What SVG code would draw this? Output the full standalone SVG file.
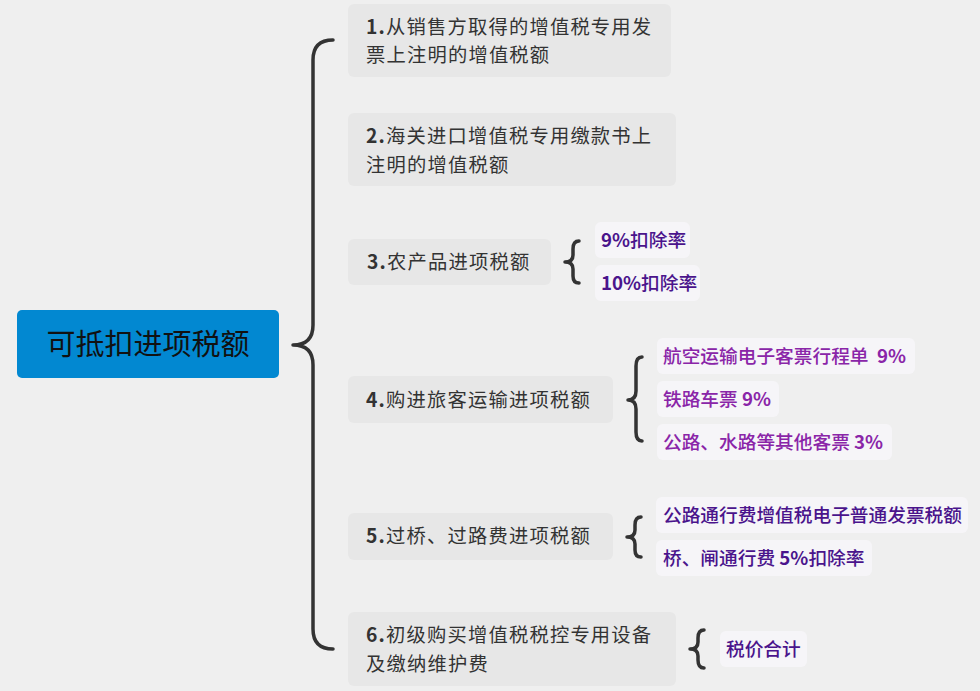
<svg xmlns="http://www.w3.org/2000/svg" width="980" height="691" viewBox="0 0 980 691">
<style>
.bg{fill:#efefef}
.node{fill:#e7e7e7}
.leaf{fill:#f6f5f8}
.t{font-family:"Noto Sans CJK SC","Noto Sans",sans-serif;font-size:19.3px;letter-spacing:1.2px;fill:#333333}
.lt{font-family:"Noto Sans CJK SC","Noto Sans",sans-serif;font-size:18.7px;font-weight:500}
.p1{fill:#4a148c}
.p2{fill:#8a25a8}
.b{font-weight:bold}
.br{fill:none;stroke:#333333;stroke-width:3.5;stroke-linecap:round;stroke-linejoin:round}
</style>
<rect class="bg" x="0" y="0" width="980" height="691"/>
<g id="connectors">
<path class="br" d="M333,40 Q313,40 313,60 L313,325 Q313,345 293,345 Q313,345 313,365 L313,629 Q313,649 333,649"/>
<path class="br" d="M579,241 Q573,241 573,249 L573,255 Q573,262 565,262 Q573,262 573,269 L573,276 Q573,283 579,283"/>
<path class="br" d="M642,357 Q636,357 636,366 L636,391 Q636,400 628,400 Q636,400 636,409 L636,432 Q636,441 642,441"/>
<path class="br" d="M641,517 Q635,517 635,525 L635,530 Q635,537 627,537 Q635,537 635,544 L635,550 Q635,557 641,557"/>
<path class="br" d="M704,630 Q698,630 698,638 L698,642 Q698,649 690,649 Q698,649 698,656 L698,660 Q698,668 704,668"/>
</g>
<g id="root">
<rect x="17" y="310" width="262" height="68" rx="5" fill="#0288d1"/>
<text x="148" y="355" text-anchor="middle" font-family="Noto Sans CJK SC, Noto Sans, sans-serif" font-size="29" fill="#111111">可抵扣进项税额</text>
</g>
<g id="n1">
<rect class="node" x="348" y="4" width="323" height="73" rx="6"/>
<text class="t" x="366" y="33.5"><tspan class="b">1.</tspan>从销售方取得的增值税专用发<tspan x="366" dy="28.5">票上注明的增值税额</tspan></text>
</g>
<g id="n2">
<rect class="node" x="348" y="113" width="328" height="73" rx="6"/>
<text class="t" x="366" y="143"><tspan class="b">2.</tspan>海关进口增值税专用缴款书上<tspan x="366" dy="28.5">注明的增值税额</tspan></text>
</g>
<g id="n3">
<rect class="node" x="348" y="239" width="203" height="46" rx="6"/>
<text class="t" x="367" y="269"><tspan class="b">3.</tspan>农产品进项税额</text>
</g>
<g id="n3a">
<rect class="leaf" x="595" y="222" width="95" height="36" rx="6"/>
<text class="lt p1" x="601" y="247"><tspan class="b">9%</tspan>扣除率</text>
</g>
<g id="n3b">
<rect class="leaf" x="595" y="265" width="105" height="36" rx="6"/>
<text class="lt p1" x="601" y="290"><tspan class="b">10%</tspan>扣除率</text>
</g>
<g id="n4">
<rect class="node" x="348" y="376" width="265" height="47" rx="6"/>
<text class="t" x="366" y="407"><tspan class="b">4.</tspan>购进旅客运输进项税额</text>
</g>
<g id="n4a">
<rect class="leaf" x="657" y="338" width="258" height="36" rx="6"/>
<text class="lt p2" x="663" y="363">航空运输电子客票行程单&#160; <tspan class="b">9%</tspan></text>
</g>
<g id="n4b">
<rect class="leaf" x="657" y="381" width="122" height="36" rx="6"/>
<text class="lt p2" x="663" y="406">铁路车票 <tspan class="b">9%</tspan></text>
</g>
<g id="n4c">
<rect class="leaf" x="657" y="424" width="235" height="36" rx="6"/>
<text class="lt p2" x="663" y="449">公路、水路等其他客票 <tspan class="b">3%</tspan></text>
</g>
<g id="n5">
<rect class="node" x="348" y="513" width="265" height="47" rx="6"/>
<text class="t" x="366" y="543"><tspan class="b">5.</tspan>过桥、过路费进项税额</text>
</g>
<g id="n5a">
<rect class="leaf" x="656" y="497" width="312" height="36" rx="6"/>
<text class="lt p1" x="663" y="522">公路通行费增值税电子普通发票税额</text>
</g>
<g id="n5b">
<rect class="leaf" x="656" y="540" width="216" height="36" rx="6"/>
<text class="lt p1" x="663" y="565">桥、闸通行费 <tspan class="b">5%</tspan>扣除率</text>
</g>
<g id="n6">
<rect class="node" x="348" y="612" width="328" height="74" rx="6"/>
<text class="t" x="366" y="642"><tspan class="b">6.</tspan>初级购买增值税税控专用设备<tspan x="366" dy="28.5">及缴纳维护费</tspan></text>
</g>
<g id="n6a">
<rect class="leaf" x="720" y="631" width="87" height="36" rx="6"/>
<text class="lt p1" x="726" y="656">税价合计</text>
</g>
</svg>
